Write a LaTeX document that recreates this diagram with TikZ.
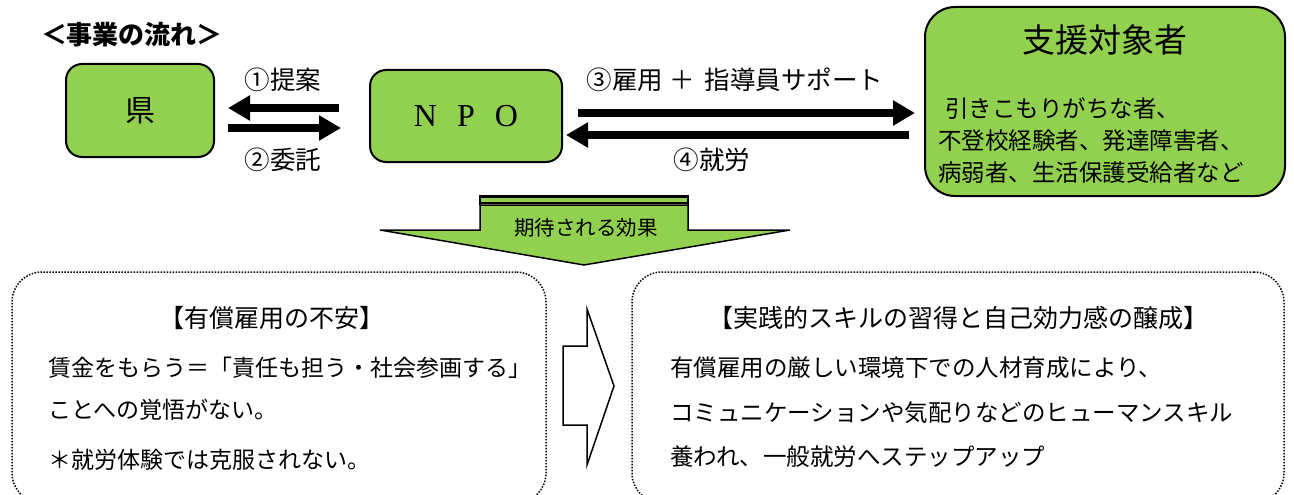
\documentclass[tikz,border=0pt]{standalone}
\usepackage{fontspec}
\setmainfont{Liberation Serif}
\newfontfamily\jp{Noto Sans CJK JP}
\usetikzlibrary{arrows.meta,calc}
\definecolor{grn}{HTML}{92D050}
\tikzset{
  gbox/.style={draw=black, line width=2pt, fill=grn, rounded corners=16pt, inner sep=0pt},
  dbox/.style={draw=black, line width=1.5pt, dash pattern=on 1.5pt off 1.5pt, rounded corners=30pt, inner sep=0pt},
  bigarrow/.style={line width=8pt, -{Triangle[length=22pt,width=24pt]}},
  jt/.style={font=\jp\fontsize{#1pt}{#1pt}\selectfont, inner sep=0pt},
}
\begin{document}
\begin{tikzpicture}[x=1pt,y=-1pt]
\useasboundingbox (0,0) rectangle (1294,495);
\clip (0,0) rectangle (1294,495);
\fill[white] (0,0) rectangle (1294,495);

% title
\node[inner sep=0pt, font=\jp\bfseries\fontsize{26pt}{26pt}\selectfont] (title) at (132,35) {＜事業の流れ＞};

% boxes
\node[gbox, minimum width=148pt, minimum height=93pt, jt=30] (ken) at (140,110.5) {県};
\node[gbox, minimum width=192pt, minimum height=92pt, font=\fontsize{32pt}{32pt}\selectfont] (npo) at (466,116) {N\hspace{20pt}P\hspace{20pt}O};
\node[gbox, rounded corners=30pt, minimum width=360pt, minimum height=189pt] (tgt) at (1105,101.5) {};

\node[jt=33] (tgttitle) at (1105,40) {支援対象者};
\node[jt=23.5, anchor=west] (tl1) at (945,108) {引きこもりがちな者、};
\node[jt=23.5, anchor=west] (tl2) at (938,141) {不登校経験者、発達障害者、};
\node[jt=23.5, anchor=west] (tl3) at (938,173) {病弱者、生活保護受給者など};

% arrows ken <-> npo
\draw[bigarrow] ([xshift=-30pt]npo.west |- 0,108) -- ([xshift=13pt]ken.east |- 0,108);
\draw[bigarrow] ([xshift=13pt]ken.east |- 0,128) -- ([xshift=-28pt]npo.west |- 0,128);
\node[jt=25.5] (l1) at (283,80) {①提案};
\node[jt=25.5] (l2) at (283,160) {②委託};

% arrows npo <-> target
\draw[bigarrow] ([xshift=15pt]npo.east |- 0,113) -- ([xshift=-9pt]tgt.west |- 0,113);
\draw[bigarrow] ([xshift=-15pt]tgt.west |- 0,135) -- ([xshift=3pt]npo.east |- 0,135);
\node[jt=25.5] (l3) at (735,80) {③雇用\hspace{6pt}＋\hspace{10pt}指導員サポート};
\node[jt=25.5] (l4) at (712,160) {④就労};

% big down arrow
\draw[line width=1.5pt, fill=grn, line join=miter] (480,205) -- (480,230) -- (380,230) -- (584,265) -- (790,230) -- (688,230) -- (688,205) -- cycle;
\fill[grn] (480,197) rectangle (688,203);
\draw[line width=3pt] (480,196.5) -- (688,196.5);
\draw[line width=2pt] (480,202.5) -- (688,202.5);
\draw[line width=1.5pt] (480,195) -- (480,205) (688,195) -- (688,205);
\node[jt=20.5] (eff) at (586,228) {期待される効果};

% bottom boxes
\node[dbox, minimum width=534pt, minimum height=231pt] (lbox) at (279,387.5) {};
\node[dbox, minimum width=652pt, minimum height=231pt] (rbox) at (958,387.5) {};

\node[jt=25] (lt) at (272,318) {【有償雇用の不安】};
\node[jt=23, anchor=west] (ll1) at (48,368) {賃金をもらう＝「責任も担う・社会参画する」};
\node[jt=23, anchor=west] (ll2) at (48,410) {ことへの覚悟がない。};
\node[jt=23, anchor=west] (ll3) at (48,460) {＊就労体験では克服されない。};

\node[jt=25] (rt) at (958,318) {【実践的スキルの習得と自己効力感の醸成】};
\node[jt=23.5, anchor=west] (rl1) at (670,368) {有償雇用の厳しい環境下での人材育成により、};
\node[jt=23.5, anchor=west] (rl2) at (670,413) {コミュニケーションや気配りなどのヒューマンスキル};
\node[jt=23.5, anchor=west] (rl3) at (670,457) {養われ、一般就労へステップアップ};

% hollow arrow
\draw[line width=1.5pt, fill=white, line join=miter] (563,346) -- (587,346) -- (587,309) -- (614,386) -- (587,465) -- (587,425) -- (563,425) -- cycle;
\end{tikzpicture}
\end{document}
